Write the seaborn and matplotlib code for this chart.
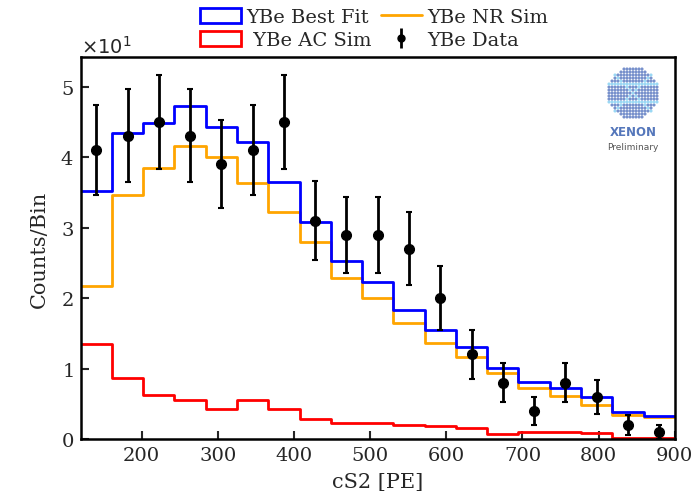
import numpy as np
import pandas as pd
import matplotlib
matplotlib.use("Agg")
import matplotlib.pyplot as plt
import seaborn as sns
from matplotlib.patches import Patch
from matplotlib.lines import Line2D

# ---- data (counts per bin) ----
x_range = (120, 900)
n_bins = 19
best_fit = [35.2, 43.4, 44.8, 47.2, 44.3, 42.1, 36.5, 30.8, 25.2, 22.3,
            18.3, 15.4, 13.1, 10.1, 8.1, 7.2, 5.9, 3.8, 3.2]
nr_sim = [21.7, 34.6, 38.5, 41.5, 40.0, 36.3, 32.2, 27.9, 22.8, 20.0,
          16.4, 13.6, 11.7, 9.4, 7.2, 6.1, 4.8, 3.4, 3.1]
ac_sim = [13.5, 8.7, 6.2, 5.6, 4.3, 5.6, 4.3, 2.9, 2.3, 2.3,
          2.0, 1.8, 1.5, 0.7, 0.95, 1.0, 0.85, 0.2, 0.2]
data_counts = [41, 43, 45, 43, 39, 41, 45, 31, 29, 29,
               27, 20, 12, 8, 4, 8, 6, 2, 1]
data_err = [6.4, 6.6, 6.7, 6.6, 6.2, 6.4, 6.7, 5.6, 5.4, 5.4,
            5.2, 4.5, 3.5, 2.8, 2.0, 2.8, 2.4, 1.4, 1.0]
x_ticks = [200, 300, 400, 500, 600, 700, 800, 900]
y_ticks = [0, 10, 20, 30, 40, 50]

edges = np.linspace(x_range[0], x_range[1], n_bins + 1)
centers = 0.5 * (edges[:-1] + edges[1:])
df = pd.DataFrame({"cS2": centers, "best": best_fit, "nr": nr_sim,
                   "ac": ac_sim, "data": data_counts, "err": data_err})

sns.set_style("ticks")
plt.rcParams["font.family"] = ["DejaVu Serif"]
plt.rcParams["mathtext.fontset"] = "dejavusans"

fig = plt.figure(figsize=(6.95, 5.02), dpi=100)
ax = fig.add_axes([0.116, 0.1235, 0.855, 0.761])

for col, c in [("nr", "orange"), ("best", "blue"), ("ac", "red")]:
    sns.histplot(data=df, x="cS2", weights=col, bins=n_bins, binrange=x_range,
                 element="step", fill=False, color=c, linewidth=2, ax=ax)
ax.errorbar(df["cS2"], df["data"], yerr=df["err"], fmt="o", color="black",
            markersize=7, elinewidth=2, capsize=2.5, capthick=1.5, zorder=5)

ax.set_xlim(*x_range)
ax.set_ylim(0, 54.2)
ax.set_xticks(x_ticks)
ax.set_yticks(y_ticks)
ax.ticklabel_format(axis="y", style="sci", scilimits=(0, 0), useMathText=True)
ot = ax.yaxis.get_offset_text()
ot.set_fontsize(14)
ot.set_family("DejaVu Sans")
ax.tick_params(direction="in", length=6, width=1.5, labelsize=14, pad=5)
for s in ax.spines.values():
    s.set_linewidth(1.8)
    s.set_color("black")
ax.set_xlabel("cS2 [PE]", fontsize=15, labelpad=6)
ax.set_ylabel("Counts/Bin", fontsize=15, labelpad=8)

eb = ax.errorbar([], [], yerr=[], fmt="o", color="black", markersize=5,
                 elinewidth=2, capsize=1.5)
handles = [Patch(facecolor="none", edgecolor="blue", linewidth=2),
           Patch(facecolor="none", edgecolor="red", linewidth=2),
           Line2D([], [], color="orange", linewidth=2),
           eb]
labels = ["YBe Best Fit", " YBe AC Sim", "YBe NR Sim", "YBe Data"]
fig.legend(handles, labels, ncol=2, loc="upper left",
           bbox_to_anchor=(196 / 695, 1 - 5 / 502), frameon=False, fontsize=14,
           handlelength=2.1, handleheight=0.8, handletextpad=0.3,
           columnspacing=0.5, labelspacing=0.25, borderaxespad=0.0,
           borderpad=0.2)

# ---- XENON logo ----
lax = fig.add_axes([606 / 695, 1 - 121 / 502, 54 / 695, 54 / 502])
gx, gy = np.meshgrid(np.arange(-8, 9), np.arange(-8, 9))
mask = gx ** 2 + gy ** 2 <= 8.6 ** 2
cross = (np.abs(gx - gy) <= 0) | (np.abs(gx + gy) <= 0) | (gy == 3) | (gy == -3)
cols = np.where(cross[mask], "#9ad8f4", "#7891cc")
lax.scatter(gx[mask], gy[mask], s=5, c=cols, linewidths=0)
lax.set_xlim(-9, 9)
lax.set_ylim(-9, 9)
lax.set_aspect("equal")
lax.axis("off")
fig.text(633 / 695, 1 - 132 / 502, "XENON", ha="center", va="center",
         fontsize=8.5, fontweight="bold", color="#5577bb", family="DejaVu Sans")
fig.text(633 / 695, 1 - 148 / 502, "Preliminary", ha="center", va="center",
         fontsize=6.5, color="#555555", family="DejaVu Sans")

fig.savefig("out.png", dpi=100)
